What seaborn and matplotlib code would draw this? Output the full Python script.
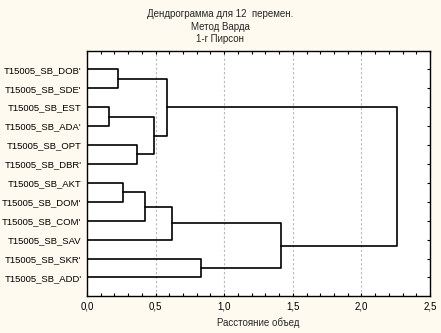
import matplotlib
matplotlib.use("Agg")
import matplotlib.pyplot as plt
from matplotlib.ticker import MultipleLocator, FuncFormatter
import seaborn as sns
import pandas as pd

# ---- data ----
leaf_labels = ["T15005_SB_DOB'", "T15005_SB_SDE'", "T15005_SB_EST", "T15005_SB_ADA'",
               "T15005_SB_OPT", "T15005_SB_DBR'", "T15005_SB_AKT", "T15005_SB_DOM'",
               "T15005_SB_COM'", "T15005_SB_SAV", "T15005_SB_SKR'", "T15005_SB_ADD'"]
# merges: (child a, child b); indices >= 12 are clusters formed by earlier merges
merge_a = [2, 0, 6, 4, 14, 12, 13, 16, 10, 19, 18]
merge_b = [3, 1, 7, 5, 8, 15, 17, 9, 11, 20, 21]
merge_h = [0.163, 0.228, 0.265, 0.362, 0.425, 0.491, 0.581, 0.622, 0.833, 1.416, 2.262]
x_ticks = [0.0, 0.5, 1.0, 1.5, 2.0, 2.5]
title_lines = ["Дендрограмма для 12  перемен.", "Метод Варда", "1-r Пирсон"]
x_label = "Расстояние объед"

# ---- build dendrogram segments ----
n = len(leaf_labels)
node_x = {i: 0.0 for i in range(n)}
node_y = {i: float(i) for i in range(n)}
rows = []
for k, (a, b, h) in enumerate(zip(merge_a, merge_b, merge_h)):
    pts = [(node_x[a], node_y[a]), (h, node_y[a]), (h, node_y[b]), (node_x[b], node_y[b])]
    for j, (px, py) in enumerate(pts):
        rows.append({"seg": k, "order": j, "x": px, "y": py})
    nid = n + k
    node_x[nid] = h
    node_y[nid] = (node_y[a] + node_y[b]) / 2
df = pd.DataFrame(rows)

sns.set_style("white")
plt.rcParams["font.family"] = ["Liberation Sans", "DejaVu Sans"]

bg = "#fffaef"
fig = plt.figure(figsize=(4.41, 3.33), dpi=100, facecolor=bg)
ax = fig.add_axes([87 / 441, 37 / 333, 343 / 441, 245 / 333])
ax.set_facecolor("white")

for xv in x_ticks[1:-1]:
    ax.axvline(xv, color="#b8b8b8", lw=0.8, ls=(0, (2, 2)), zorder=0)

sns.lineplot(data=df, x="x", y="y", units="seg", estimator=None, sort=False,
             color="black", lw=1.2, ax=ax, legend=False)

ax.set_xlim(0, 2.5)
ax.set_ylim(11.98, -0.97)
ax.set_yticks(range(n))
ax.set_yticklabels(leaf_labels, fontsize=6.8)
ax.set_xticks(x_ticks)
ax.xaxis.set_major_formatter(FuncFormatter(lambda v, p: f"{v:.1f}".replace(".", ",")))
ax.xaxis.set_minor_locator(MultipleLocator(0.1))
ax.tick_params(axis="x", which="both", direction="in", top=True, bottom=True,
               length=2.5, width=0.8, labelsize=7, pad=4, colors="black")
ax.tick_params(axis="y", which="major", direction="in", left=False, right=True,
               length=2.5, width=0.8, pad=4, colors="black")
ax.set_xlabel(x_label, fontsize=7, labelpad=4)
ax.set_ylabel("")
for s in ax.spines.values():
    s.set_visible(True)
    s.set_color("black")
    s.set_linewidth(1.0)

for i, t in enumerate(title_lines):
    fig.text(0.5, 1 - (14 + 12.5 * i) / 333, t, ha="center", va="center", fontsize=7)

fig.savefig("out.png", dpi=100, facecolor=bg)
